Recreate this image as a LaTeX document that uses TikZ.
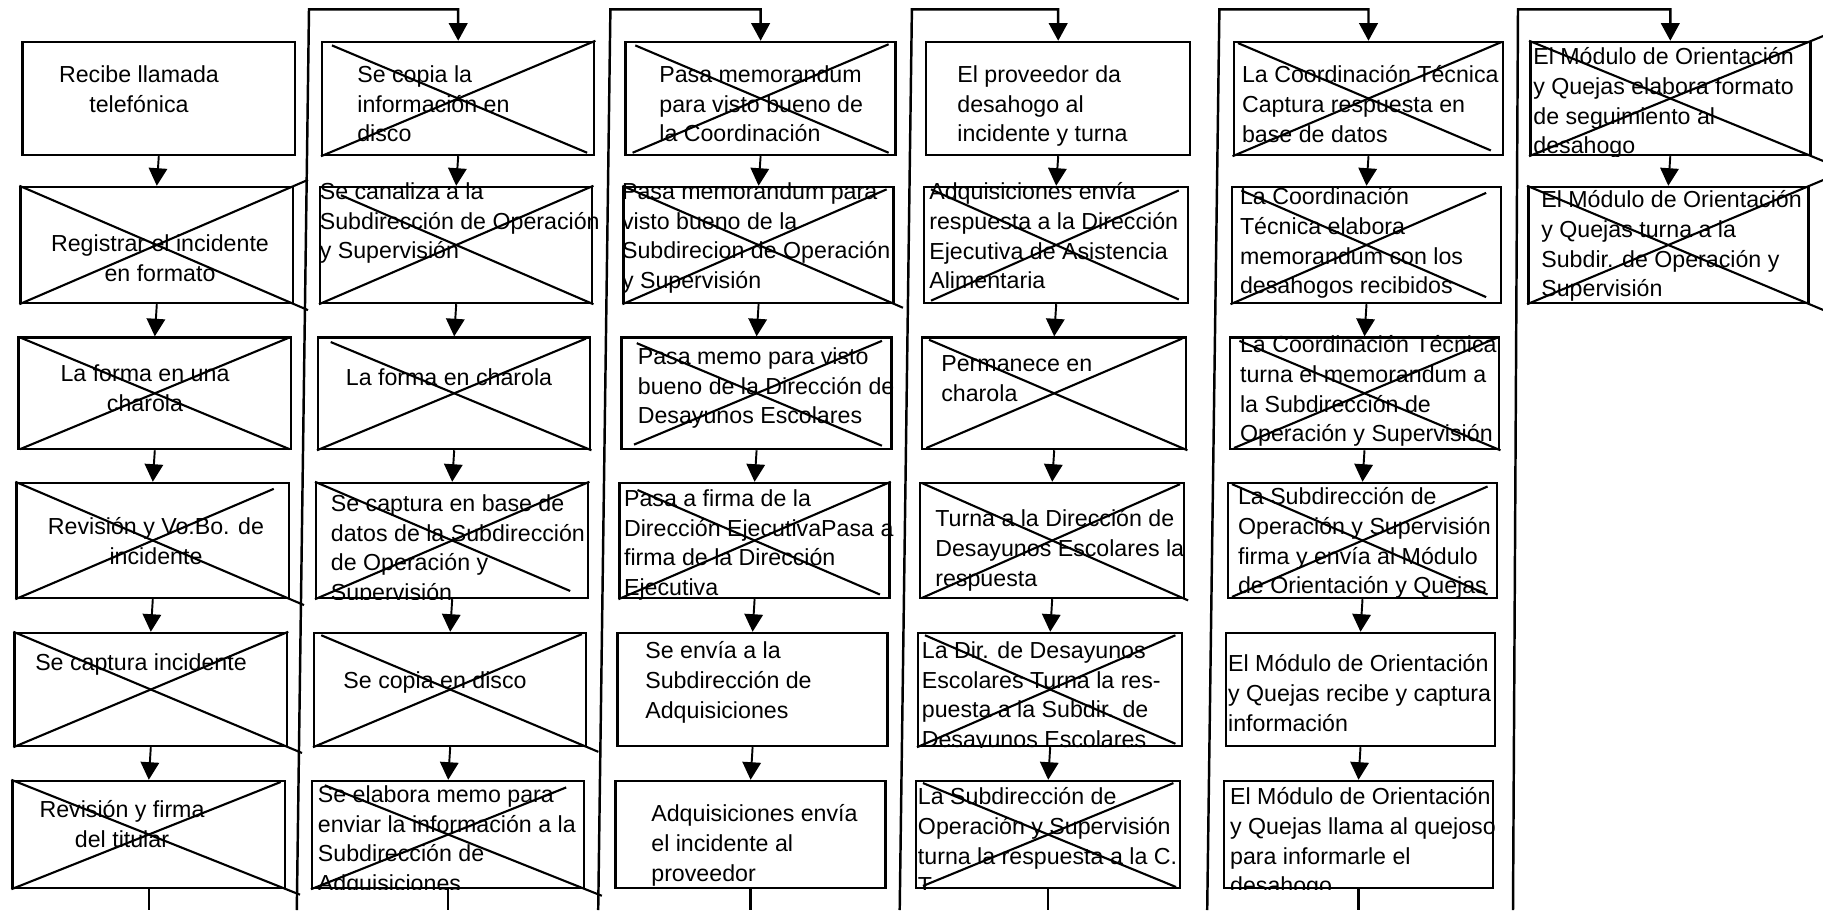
\documentclass[tikz,border=0pt]{standalone}
\usepackage{fontspec}
\setmainfont{Liberation Sans}
\usepackage{tikz}
\usetikzlibrary{
  arrows.meta,
  calc
}
\tikzset{
  box/.style={
    draw,
    line width=1.4pt,
    inner sep=0pt
  },
  strike/.style={
    line width=1.2pt
  },
  flow/.style={
    -{Triangle[length=10pt,width=10.5pt]},
    line width=1.1pt
  },
  link/.style={
    line width=1.4pt
  },
  txt/.style={
    anchor=north west,
    align=left,
    inner sep=0pt,
    yshift=11.83pt,
    execute at begin node=\strut
  },
  ctxt/.style={
    anchor=north,
    align=center,
    inner sep=0pt,
    yshift=11.83pt,
    execute at begin node=\strut
  }
}

\begin{document}
\begin{tikzpicture}[x=0.02cm,y=-0.02cm,font=\fontsize{13.2pt}{16.9pt}\selectfont]

  \fill[white] (0,0) rectangle (1823,910);
  \useasboundingbox (0,0) rectangle (1823,910);

  % boxes of the columns 1 to 5
  \foreach \col/\x/\w in {1/160.1/5.45, 2/459.5/5.44, 3/761.9/5.40, 4/1059.5/5.28, 5/1369.8/5.39} {
    \foreach \row/\y/\h/\s in {1/98.5/2.26/1.3, 2/245/2.32/3.3, 3/393.3/2.23/5.3, 4/540.5/2.30/7.3, 5/689.5/2.26/9.3, 6/834.5/2.14/11.3} {
      \node[
        box,
        minimum width=\w cm,
        minimum height=\h cm
      ] at (\x-\s,\y) (c\col r\row) {};
    }
  }

  % column 6
  \foreach \row/\y/\h/\s in {1/98.5/2.26/1.3, 2/245/2.32/3.3} {
    \node[
      box,
      minimum width=5.60cm,
      minimum height=\h cm
    ] at (1671.6-\s,\y) (c6r\row) {};
  }

  \node[ctxt] at (139,86) (t1r1) {Recibe llamada\\telefónica};
  \node[ctxt] at (160,255) (t1r2) {Registrar el incidente\\en formato};
  \node[ctxt] at (145,385) (t1r3) {La forma en una\\charola};
  \node[ctxt] at (156,538) (t1r4) {Revisión y Vo.Bo. de\\incidente};
  \node[ctxt] at (141,670) (t1r5) {Se captura incidente};
  \node[ctxt] at (122,821) (t1r6) {Revisión y firma\\del titular};

  \node[txt] at (357,86) (t2r1) {Se copia la\\información en\\disco};
  \node[txt] at (319.5,203) (t2r2) {Se canaliza a la\\Subdirección de Operación\\y Supervisión};
  \node[ctxt] at (449,385) (t2r3) {La forma en charola};
  \begin{scope}
    \clip (c2r4.north west) rectangle (c2r4.south east);
    \node[txt] at (330.6,515) (t2r4) {Se captura en base de\\datos de la Subdirección\\de Operación y\\Supervisión};
  \end{scope}
  \node[ctxt] at (435,688) (t2r5) {Se copia en disco};
  \begin{scope}
    \clip (c2r6.north west) rectangle (c2r6.south east);
    \node[txt] at (317.6,806) (t2r6) {Se elabora memo para\\enviar la información a la\\Subdirección de\\Adquisiciones};
  \end{scope}

  \node[txt] at (659,86) (t3r1) {Pasa memorandum\\para visto bueno de\\la Coordinación};
  \node[txt] at (621.7,203) (t3r2) {Pasa memorandum para\\visto bueno de la\\Subdirecion de Operación\\y Supervisión};
  \node[txt] at (637.5,368) (t3r3) {Pasa memo para visto\\bueno de la Dirección de\\Desayunos Escolares};
  \node[txt] at (623.7,510) (t3r4) {Pasa a firma de la\\Dirección EjecutivaPasa a\\firma de la Dirección\\Ejecutiva};
  \node[txt] at (645,662) (t3r5) {Se envía a la\\Subdirección de\\Adquisiciones};
  \node[txt] at (651,825) (t3r6) {Adquisiciones envía\\el incidente al\\proveedor};

  \node[txt] at (957,86) (t4r1) {El proveedor da\\desahogo al\\incidente y turna};
  \node[txt] at (929,203) (t4r2) {Adquisiciones envía\\respuesta a la Dirección\\Ejecutiva de Asistencia\\Alimentaria};
  \node[txt] at (941,376) (t4r3) {Permanece en\\charola};
  \node[txt] at (935,530) (t4r4) {Turna a la Dirección de\\Desayunos Escolares la\\respuesta};
  \begin{scope}
    \clip (c4r5.north west) rectangle (c4r5.south east);
    \node[txt] at (921.5,662) (t4r5) {La Dir. de Desayunos\\Escolares Turna la res-\\puesta a la Subdir. de\\Desayunos Escolares};
  \end{scope}
  \begin{scope}
    \clip (c4r6.north west) rectangle (c4r6.south east);
    \node[txt] at (917.6,808) (t4r6) {La Subdirección de\\Operación y Supervisión\\turna la respuesta a la C.\\T.};
  \end{scope}

  \node[txt] at (1241.7,86) (t5r1) {La Coordinación Técnica\\Captura respuesta en\\base de datos};
  \node[txt] at (1239.7,208) (t5r2) {La Coordinación\\Técnica elabora\\memorandum con los\\desahogos recibidos};
  \node[txt] at (1239.7,356) (t5r3) {La Coordinación Técnica\\turna el memorandum a\\la Subdirección de\\Operación y Supervisión};
  \node[txt] at (1237.7,508) (t5r4) {La Subdirección de\\Operación y Supervisión\\firma y envía al Módulo\\de Orientación y Quejas};
  \node[txt] at (1227.8,675) (t5r5) {El Módulo de Orientación\\y Quejas recibe y captura\\información};
  \begin{scope}
    \clip (c5r6.north west) rectangle (c5r6.south east);
    \node[txt] at (1229.8,808) (t5r6) {El Módulo de Orientación\\y Quejas llama al quejoso\\para informarle el\\desahogo};
  \end{scope}

  \begin{scope}
    \clip (c6r1.north west) rectangle (c6r1.south east);
    \node[txt] at (1533,68) (t6r1) {El Módulo de Orientación\\y Quejas elabora formato\\de seguimiento al\\desahogo};
  \end{scope}
  \node[txt] at (1541,211) (t6r2) {El Módulo de Orientación\\y Quejas turna a la\\Subdir. de Operación y\\Supervisión};

  % crossed-out steps
  \foreach \bx/\sa/\ea/\sb/\eb in {
    c1r2/0/1.05/0/1.05, c1r3/0.01/0.99/0.01/0.99, c1r4/0/1.05/0/0.94,
    c1r5/0/1.05/0/1, c1r6/0/1.05/0/0.98,
    c2r1/0.04/0.97/0/1, c2r2/0.08/1/0/1, c2r3/0.05/1/0/0.98,
    c2r4/0/0.93/0/1, c2r5/0.03/1.04/0/0.98, c2r6/0.05/1.06/0/0.93,
    c3r1/0.04/0.97/0.03/0.97, c3r2/0/1.03/0/0.97, c3r3/0.06/0.96/0.05/0.96,
    c3r4/0.07/0.96/0/1,
    c4r2/0.03/0.96/0.03/0.96, c4r3/0.03/1/0.02/0.98, c4r4/0.01/1.01/0.01/0.98,
    c4r5/0.03/0.97/0/0.97, c4r6/0.03/0.98/0.03/0.97,
    c5r1/0.02/0.95/0/0.99, c5r2/0.04/0.94/0/0.94, c5r3/0.04/1/0.02/0.99,
    c5r4/0.02/0.96/0.02/0.96,
    c6r1/0/1.05/0/1.05, c6r2/0/1.05/0/1.05
  } {
    \draw[strike]
    ($(\bx.north west)!\sa!(\bx.south east)$) --
    ($(\bx.north west)!\ea!(\bx.south east)$);
    \draw[strike]
    ($(\bx.south west)!\sb!(\bx.north east)$) --
    ($(\bx.south west)!\eb!(\bx.north east)$);
  }

  % arrows inside the columns
  \foreach \col in {1,...,5} {
    \foreach \a/\b in {1/2, 2/3, 3/4, 4/5, 5/6} {
      \draw[flow] (c\col r\a.south) -- (c\col r\b.north);
    }
  }
  \draw[flow] (c6r1.south) -- (c6r2.north);

  % lines coming in from the page below
  \foreach \col/\xt/\xb in {2/309.0/296.8, 3/610.4/598.2, 4/911.9/899.7, 5/1219.4/1207.2, 6/1518.0/1513.0} {
    \coordinate (in\col) at (\xb,910);
    \coordinate (top\col) at (\xt,9.3);
    \draw[flow, line width=1.4pt] (in\col) -- (top\col) -| (c\col r1.north);
  }

  % lines going out at the bottom
  \foreach \col in {1,...,5} {
    \coordinate (out\col) at (c\col r6.south |- 0,910);
    \draw[link] (c\col r6.south) -- (out\col);
  }

\end{tikzpicture}
\end{document}
